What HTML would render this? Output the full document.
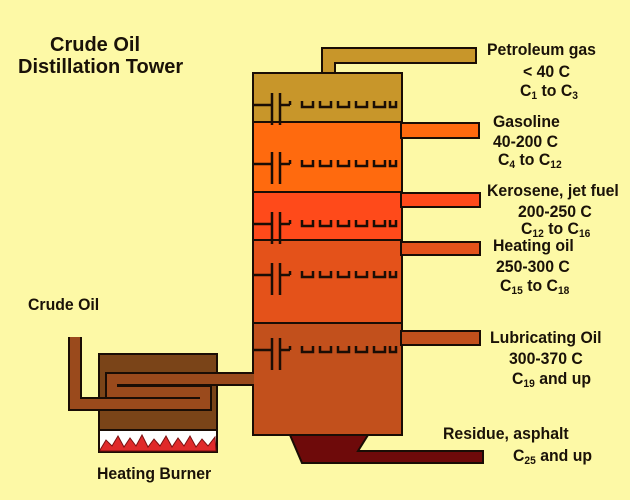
<!DOCTYPE html>
<html><head><style>
body{margin:0;width:630px;height:500px;background:#fdf9a6;overflow:hidden;position:relative;font-family:"Liberation Sans",sans-serif;font-weight:bold;color:#1a1208}
.t{position:absolute;font-size:17px;line-height:18px;white-space:nowrap;transform:scaleX(0.93);transform-origin:0 0}
sub{font-size:11px;vertical-align:-3px;line-height:0}
</style></head><body>
<svg width="630" height="500" style="position:absolute;left:0;top:0">
<g stroke="#1a0d05" stroke-width="2">
<path d="M322,74 V48 H476 V63 H335 V74" fill="#c8962a"/>
<rect x="253" y="73" width="149" height="49" fill="#c8962a"/>
<rect x="253" y="122" width="149" height="70" fill="#ff6a0e"/>
<rect x="253" y="192" width="149" height="48" fill="#ff4a1a"/>
<rect x="253" y="240" width="149" height="83" fill="#e4521a"/>
<rect x="253" y="323" width="149" height="112" fill="#c2501c"/>
<rect x="401" y="123" width="78" height="15" fill="#ff6a0e"/>
<rect x="401" y="193" width="79" height="14" fill="#ff4a1a"/>
<rect x="401" y="242" width="79" height="13" fill="#e4521a"/>
<rect x="401" y="331" width="79" height="14" fill="#c2501c"/>
<path d="M290,435 H368 L358,451 H483 V463 H302 Z" fill="#6e0a0a"/>
<rect x="99" y="354" width="118" height="76" fill="#7a4418"/>
<rect x="99" y="430" width="118" height="22" fill="#fff"/>
</g>
<path d="M100,450 L106,440 L112,446 L118,436 L124,447 L130,438 L136,446 L142,435 L148,447 L154,439 L160,446 L166,436 L172,447 L178,438 L184,446 L190,436 L196,447 L202,439 L208,446 L215,437 L216,451 H100Z" fill="#e02a2a" stroke="#7a1010" stroke-width="1"/>
<path d="M75,337 V404 H205 V392 H112 V379 H254" fill="none" stroke="#1a0d05" stroke-width="14"/>
<path d="M75,337 V404 H205 V392 H112 V379 H254" fill="none" stroke="#9a4a1c" stroke-width="10"/>
<g stroke="#1a0d05" stroke-width="2.5" fill="none">
<g transform="translate(0,105)"><path d="M253,0 H272 M272,-12 V20 M280,-12 V20 M281,0 H290 M290,-4 V0"/><path d="M302,-4 V2 H313 V-4 M320,-4 V2 H331 V-4 M338,-4 V2 H349 V-4 M356,-4 V2 H367 V-4 M374,-4 V2 H385 V-4 M390,-4 V2 H396 V-4"/></g>
<g transform="translate(0,164)"><path d="M253,0 H272 M272,-12 V20 M280,-12 V20 M281,0 H290 M290,-4 V0"/><path d="M302,-4 V2 H313 V-4 M320,-4 V2 H331 V-4 M338,-4 V2 H349 V-4 M356,-4 V2 H367 V-4 M374,-4 V2 H385 V-4 M390,-4 V2 H396 V-4"/></g>
<g transform="translate(0,224)"><path d="M253,0 H272 M272,-12 V20 M280,-12 V20 M281,0 H290 M290,-4 V0"/><path d="M302,-4 V2 H313 V-4 M320,-4 V2 H331 V-4 M338,-4 V2 H349 V-4 M356,-4 V2 H367 V-4 M374,-4 V2 H385 V-4 M390,-4 V2 H396 V-4"/></g>
<g transform="translate(0,275)"><path d="M253,0 H272 M272,-12 V20 M280,-12 V20 M281,0 H290 M290,-4 V0"/><path d="M302,-4 V2 H313 V-4 M320,-4 V2 H331 V-4 M338,-4 V2 H349 V-4 M356,-4 V2 H367 V-4 M374,-4 V2 H385 V-4 M390,-4 V2 H396 V-4"/></g>
<g transform="translate(0,350)"><path d="M253,0 H272 M272,-12 V20 M280,-12 V20 M281,0 H290 M290,-4 V0"/><path d="M302,-4 V2 H313 V-4 M320,-4 V2 H331 V-4 M338,-4 V2 H349 V-4 M356,-4 V2 H367 V-4 M374,-4 V2 H385 V-4 M390,-4 V2 H396 V-4"/></g>
</g>
</svg>
<div class="t" style="left:50px;top:35px;font-size:20px;line-height:21px;transform:none">Crude Oil</div>
<div class="t" style="left:18px;top:57px;font-size:20px;line-height:21px;transform:none">Distillation Tower</div>
<div class="t" style="left:28px;top:296px">Crude Oil</div>
<div class="t" style="left:97px;top:465px">Heating Burner</div>
<div class="t" style="left:487px;top:41px">Petroleum gas</div>
<div class="t" style="left:523px;top:63px">&lt; 40 C</div>
<div class="t" style="left:520px;top:82px">C<sub>1</sub> to C<sub>3</sub></div>
<div class="t" style="left:493px;top:113px">Gasoline</div>
<div class="t" style="left:493px;top:133px">40-200 C</div>
<div class="t" style="left:498px;top:151px">C<sub>4</sub> to C<sub>12</sub></div>
<div class="t" style="left:487px;top:182px">Kerosene, jet fuel</div>
<div class="t" style="left:518px;top:203px">200-250 C</div>
<div class="t" style="left:521px;top:220px">C<sub>12</sub> to C<sub>16</sub></div>
<div class="t" style="left:493px;top:237px">Heating oil</div>
<div class="t" style="left:496px;top:258px">250-300 C</div>
<div class="t" style="left:500px;top:277px">C<sub>15</sub> to C<sub>18</sub></div>
<div class="t" style="left:490px;top:329px">Lubricating Oil</div>
<div class="t" style="left:509px;top:350px">300-370 C</div>
<div class="t" style="left:512px;top:370px">C<sub>19</sub> and up</div>
<div class="t" style="left:443px;top:425px">Residue, asphalt</div>
<div class="t" style="left:513px;top:447px">C<sub>25</sub> and up</div>
</body></html>
